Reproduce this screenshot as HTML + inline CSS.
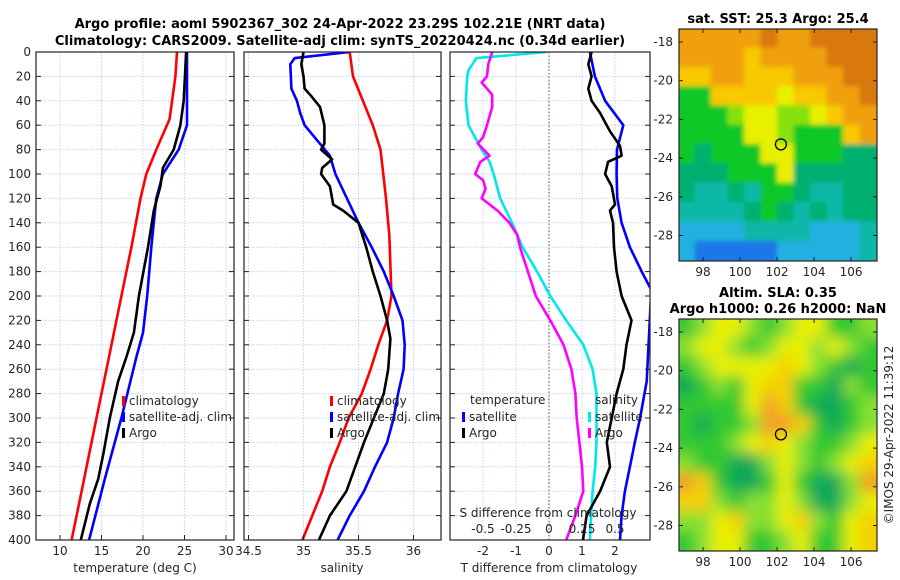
<!DOCTYPE html>
<html><head><meta charset="utf-8"><style>
html,body{margin:0;padding:0;background:#fff;}
svg{display:block;font-family:"DejaVu Sans","Liberation Sans",sans-serif;}
.t{font-size:12px;fill:#262626;}
.b{font-size:13px;font-weight:bold;fill:#000;}
</style></head><body>
<svg id="c" width="900" height="580" viewBox="0 0 900 580" xmlns="http://www.w3.org/2000/svg">
<defs>
<clipPath id="cp1"><rect x="36" y="52" width="198" height="488"/></clipPath>
<clipPath id="cp2"><rect x="244" y="52" width="197" height="488"/></clipPath>
<clipPath id="cp3"><rect x="450" y="52" width="200" height="488"/></clipPath>
<clipPath id="cm1"><rect x="679" y="29" width="198" height="232"/></clipPath>
<clipPath id="cm2"><rect x="679" y="319" width="198" height="232"/></clipPath>
<filter id="bl"><feGaussianBlur stdDeviation="7"/></filter>
<filter id="bl2"><feGaussianBlur stdDeviation="2.5"/></filter>
</defs>
<text class="b" x="340" y="28" text-anchor="middle">Argo profile: aoml 5902367_302 24-Apr-2022 23.29S 102.21E (NRT data)</text>
<text class="b" x="340" y="45" text-anchor="middle">Climatology: CARS2009. Satellite-adj clim: synTS_20220424.nc (0.34d earlier)</text>
<g id="grid"></g>
<g id="marks"></g>
<g id="axes"></g>
<g id="maps"></g>
<text class="b" x="778" y="23" text-anchor="middle">sat. SST: 25.3 Argo: 25.4</text>
<text class="b" x="778" y="297" text-anchor="middle">Altim. SLA: 0.35</text>
<text class="b" x="778" y="313" text-anchor="middle">Argo h1000: 0.26 h2000: NaN</text>
<text class="t" transform="translate(893,435) rotate(-90)" text-anchor="middle">©IMOS 29-Apr-2022 11:39:12</text>
</svg>
<script>
// ---- data ----
const depthTicks=[0,20,40,60,80,100,120,140,160,180,200,220,240,260,280,300,320,340,360,380,400];
const tempTicks=[10,15,20,25,30];
const salTicks=[34.5,35,35.5,36];
const tdiffTicks=[-2,-1,0,1,2];
const sdiffTicks=[-0.5,-0.25,0,0.25,0.5];
const lonTicks=[98,100,102,104,106];
const latTicks=[-18,-20,-22,-24,-26,-28];

const tClimDepth=[0,20,40,55,80,100,120,160,200,250,300,350,400];
const tClim=[24.1,23.9,23.5,23.2,21.6,20.4,19.7,18.6,17.4,15.9,14.4,12.9,11.4];
const tSatDepth=[0,60,80,100,120,160,200,230,250,300,350,400];
const tSat=[25.3,25.3,24.3,22.4,21.6,21.0,20.5,20.0,19.2,17.4,15.4,13.5];
const tArgoDepth=[0,40,60,80,95,110,130,160,200,230,250,270,300,330,350,370,400];
const tArgo=[25.2,24.9,24.5,23.7,22.4,22.1,21.3,20.6,19.5,18.9,18.0,17.0,16.0,15.2,14.6,13.6,12.5];

const sClimDepth=[0,20,40,60,80,120,150,200,220,240,260,280,300,320,340,360,380,400];
const sClim=[35.42,35.45,35.54,35.63,35.70,35.75,35.78,35.80,35.76,35.68,35.61,35.53,35.41,35.33,35.24,35.17,35.08,34.99];
const sSatDepth=[0,5,10,30,40,50,60,85,100,140,160,180,200,220,240,260,280,300,320,340,360,380,400];
const sSat=[35.42,34.92,34.88,34.89,34.94,34.97,35.01,35.24,35.29,35.50,35.62,35.73,35.82,35.90,35.92,35.91,35.86,35.82,35.76,35.65,35.55,35.42,35.31];
const sArgoDepth=[0,10,20,30,35,45,60,75,80,88,95,100,110,120,125,130,140,160,180,200,220,235,260,280,300,320,340,360,380,400];
const sArgo=[35.0,34.98,35.0,35.01,35.06,35.15,35.19,35.19,35.16,35.26,35.17,35.16,35.24,35.26,35.27,35.36,35.50,35.57,35.63,35.70,35.76,35.79,35.77,35.73,35.64,35.55,35.47,35.39,35.24,35.14];

const dDepthA=[0,20,40,60,80,100,120,140,160,180,195,270,300,320,340,360,380,400];
const dTSat=[1.24,1.39,1.70,2.25,2.06,2.05,2.07,2.20,2.45,2.81,3.1,2.96,2.76,2.6,2.45,2.3,2.2,2.15];
const dArgoTDepth=[0,10,20,30,40,50,65,77,85,90,100,110,125,130,140,160,180,200,220,240,260,280,300,320,340,360,380,400];
const dTArgo=[1.29,1.19,1.29,1.19,1.29,1.55,1.85,2.15,2.2,1.79,1.70,1.9,2.0,1.85,1.94,1.97,2.05,2.2,2.5,2.35,2.25,2.05,1.9,1.75,1.85,1.55,1.14,1.03];
const dSSatDepth=[0,5,15,20,40,60,70,80,90,100,120,140,160,180,200,220,240,260,280,300,320,340,360,380,400];
const dSSat=[-0.02,-0.55,-0.61,-0.62,-0.63,-0.61,-0.56,-0.51,-0.45,-0.42,-0.37,-0.28,-0.20,-0.09,0.01,0.13,0.26,0.33,0.36,0.36,0.36,0.35,0.33,0.32,0.31];
const dSArgoDepth=[0,10,20,25,35,45,60,70,75,85,90,100,105,112,120,130,140,150,160,180,200,220,240,260,280,300,320,340,360,380,400];
const dSArgo=[-0.43,-0.46,-0.47,-0.51,-0.43,-0.43,-0.47,-0.50,-0.54,-0.45,-0.52,-0.56,-0.50,-0.48,-0.51,-0.39,-0.30,-0.24,-0.22,-0.16,-0.10,0.01,0.11,0.17,0.20,0.21,0.23,0.25,0.26,0.20,0.13];

const sstGrid=["oooooOooOOOO","ooooyooooOOO","yyooyyyoooOO","GGyyyyYyyooO","GGGgYYggYyoo","GGGGYYgGGGyo","GtGGGYYGGGtt","tttGGGYttttt","tcctcGGtcctt","cccctGtctctt","bbbbccccbbbc","bBBBBBbbbbbc"];
const slaGrid=["GgYYgGgYYGGg","gYYgGgYYgYgG","GgYYYYyYgGDG","DGgGYyyGGDgG","GGGGYoyGDDGg","GDGGgooyGDGg","GGGgYyYgGGgY","gGGDDgYgGgYy","oyGDDGYGDDgo","yygGggYgDDgY","ggYyggYygGYy","GgYYGGgYGGYy"];

// ---- helpers ----
const NS="http://www.w3.org/2000/svg";
function mk(tag,attrs,parent,txt){const e=document.createElementNS(NS,tag);for(const k in attrs)e.setAttribute(k,attrs[k]);if(txt!==undefined)e.textContent=txt;parent.appendChild(e);return e;}
const yD=d=>52+d*1.22;
const xT=t=>60+(t-10)*8.3;
const xS=s=>303.5+(s-35)*110;
const xDT=t=>549+t*33;
const xDS=s=>549+s*132;
const G=document.getElementById('grid'),M=document.getElementById('marks'),A=document.getElementById('axes'),MP=document.getElementById('maps');
const panels=[{x0:36,x1:234,ticks:tempTicks,fx:xT},{x0:244,x1:441,ticks:salTicks,fx:xS},{x0:450,x1:650,ticks:tdiffTicks,fx:xDT}];
panels.forEach((p,i)=>{
  depthTicks.forEach(d=>{const l=mk('line',{x1:p.x0,x2:p.x1,y1:yD(d),y2:yD(d),stroke:'#b8c4f0','stroke-width':1,'stroke-dasharray':'1.5,1.5','stroke-opacity':0.8},G);
    
    mk('line',{x1:p.x0,x2:p.x0+5,y1:yD(d),y2:yD(d),stroke:'#222'},A);mk('line',{x1:p.x1-5,x2:p.x1,y1:yD(d),y2:yD(d),stroke:'#222'},A);});
  p.ticks.forEach(v=>{const x=p.fx(v);const l=mk('line',{x1:x,x2:x,y1:52,y2:540,stroke:'#b8c4f0','stroke-width':1,'stroke-dasharray':'1.5,1.5','stroke-opacity':0.8},G);
    
    if(i<2){mk('line',{x1:x,x2:x,y1:540,y2:535,stroke:'#222'},A);}
    const t=mk('text',{class:'t',x:x,y:555,'text-anchor':'middle'},A,String(v));
    });
  const r=mk('rect',{x:p.x0,y:52,width:p.x1-p.x0,height:488,fill:'none',stroke:'#222','stroke-width':1.2},A);
  
});
depthTicks.forEach(d=>{const t=mk('text',{class:'t',x:31,y:yD(d)+4,'text-anchor':'end'},A,String(d));
  });
const zl=mk('line',{x1:549,x2:549,y1:52,y2:540,stroke:'#4a6a2a','stroke-width':1,'stroke-dasharray':'1.5,2'},G);

[['temperature (deg C)',135],['salinity',342],['T difference from climatology',549]].forEach(([s,x])=>{
  const t=mk('text',{class:'t',x:x,y:572,'text-anchor':'middle'},A,s);});
const st=mk('text',{class:'t',x:548,y:517,'text-anchor':'middle'},A,'S difference from climatology');

sdiffTicks.forEach(v=>{const t=mk('text',{class:'t',x:xDS(v*4*33/132),y:533,'text-anchor':'middle'},A,String(v));
  });

function line(dep,vals,fx,col,clip,name){
  const d=dep.map((z,i)=>(i?'L':'M')+fx(vals[i]).toFixed(1)+','+yD(z).toFixed(1)).join(' ');
  const p=mk('path',{d:d,fill:'none',stroke:col,'stroke-width':2.6,'stroke-linejoin':'round','clip-path':'url(#'+clip+')'},M);
  
}
line(tClimDepth,tClim,xT,'#ff0000','cp1','temp-climatology-line');
line(tSatDepth,tSat,xT,'#0000ff','cp1','temp-satellite-line');
line(tArgoDepth,tArgo,xT,'#000','cp1','temp-argo-line');
line(sClimDepth,sClim,xS,'#ff0000','cp2','sal-climatology-line');
line(sSatDepth,sSat,xS,'#0000ff','cp2','sal-satellite-line');
line(sArgoDepth,sArgo,xS,'#000','cp2','sal-argo-line');
line(dSSatDepth,dSSat,xDS,'#00e8e8','cp3','sdiff-satellite-line');
line(dSArgoDepth,dSArgo,xDS,'#ff00ff','cp3','sdiff-argo-line');
line(dDepthA,dTSat,xDT,'#0000ff','cp3','tdiff-satellite-line');
line(dArgoTDepth,dTArgo,xDT,'#000','cp3','tdiff-argo-line');

function leg(x,y,col,txt){
  const g=mk('g',{},A);
  mk('rect',{x:x,y:y-9,width:3,height:10,fill:col},g);
  mk('text',{class:'t',x:x+7,y:y},g,txt);
}
leg(122,405,'#ff0000','climatology');leg(122,421,'#0000ff','satellite-adj. clim');leg(122,437,'#000','Argo');
leg(330,405,'#ff0000','climatology');leg(330,421,'#0000ff','satellite-adj. clim');leg(330,437,'#000','Argo');
const th=mk('text',{class:'t',x:470,y:404},A,'temperature');
const sh=mk('text',{class:'t',x:595,y:404},A,'salinity');
leg(462,421,'#0000ff','satellite');leg(462,437,'#000','Argo');
leg(588,421,'#00e8e8','satellite');leg(588,437,'#ff00ff','Argo');

// ---- maps ----
const sstCol={O:'#d8780c',o:'#f0a008',y:'#f8c800',Y:'#e8f000',g:'#88e010',G:'#10c828',t:'#00b070',c:'#10b8a8',b:'#20b0e0',B:'#1c78e8'};
const slaCol={G:'#30c830',g:'#88e030',Y:'#e8f000',y:'#f5d000',o:'#f0a028',D:'#10a858'};
function drawMap(y0,grid,cols,clip,blur,name){
  const g=mk('g',{'clip-path':'url(#'+clip+')'},MP);
  const gi=mk('g',{filter:'url(#'+blur+')'},g);
  const cw=198/12,ch=232/12;
  mk('rect',{x:669,y:y0-10,width:218,height:252,fill:cols[grid[6][6]]},gi);
  grid.forEach((row,r)=>{[...row].forEach((c,k)=>{
    const ex=(k==0?-12:-1), ey=(r==0?-12:-1), ew=(k==11?13:1)-ex, eh=(r==11?13:1)-ey;
    mk('rect',{x:(679+k*cw+ex).toFixed(1),y:(y0+r*ch+ey).toFixed(1),width:(cw+ew).toFixed(1),height:(ch+eh).toFixed(1),fill:cols[c]},gi);});});
  mk('rect',{x:679,y:y0,width:198,height:232,fill:'none',stroke:'#222','stroke-width':1.2},MP);
  const xL=lon=>679+(lon-96.7)*18.5, yL=lat=>y0+13+(-18-lat)*19.35;
  lonTicks.forEach(v=>{const x=xL(v);mk('line',{x1:x,x2:x,y1:y0,y2:y0+4,stroke:'#222'},MP);mk('line',{x1:x,x2:x,y1:y0+232,y2:y0+228,stroke:'#222'},MP);
    const t=mk('text',{class:'t',x:x,y:y0+247,'text-anchor':'middle'},MP,String(v));});
  latTicks.forEach(v=>{const y=yL(v);mk('line',{x1:679,x2:683,y1:y,y2:y,stroke:'#222'},MP);mk('line',{x1:877,x2:873,y1:y,y2:y,stroke:'#222'},MP);
    const t=mk('text',{class:'t',x:673,y:y+4,'text-anchor':'end'},MP,String(v));});
  const c=mk('circle',{cx:xL(102.21),cy:yL(-23.29),r:5.5,fill:'none',stroke:'#000','stroke-width':1.3},MP);
  
}
drawMap(29,sstGrid,sstCol,'cm1','bl2','sst-map');
drawMap(319,slaGrid,slaCol,'cm2','bl','sla-map');
</script>
</body></html>
